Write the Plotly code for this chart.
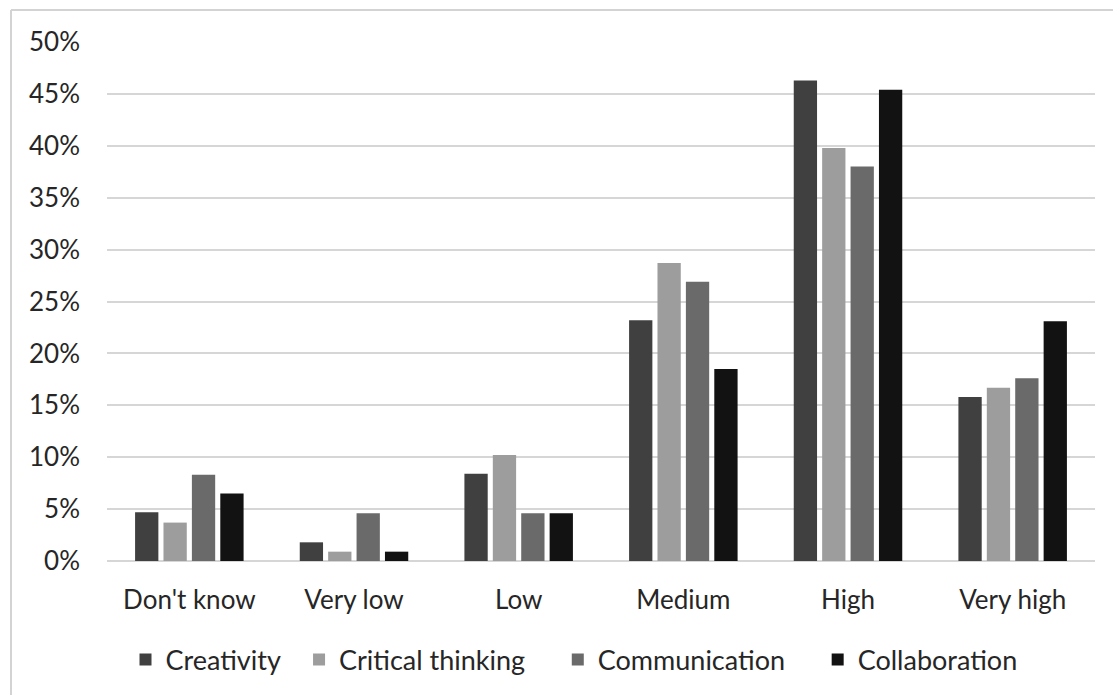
import plotly.graph_objects as go

categories = ["Don't know", "Very low", "Low", "Medium", "High", "Very high"]
creativity = [4.7, 1.8, 8.4, 23.2, 46.3, 15.8]
critical_thinking = [3.7, 0.9, 10.2, 28.7, 39.8, 16.7]
communication = [8.3, 4.6, 4.6, 26.9, 38.0, 17.6]
collaboration = [6.5, 0.9, 4.6, 18.5, 45.4, 23.1]
y_ticks = [0, 5, 10, 15, 20, 25, 30, 35, 40, 45, 50]
y_tick_labels = [f"{v}%" for v in y_ticks]

NB = "\u00a0"
series = [
    ("Creativity", creativity, "#404040", 2),
    ("Critical thinking", critical_thinking, "#9d9d9d", 4),
    ("Communication", communication, "#6a6a6a", 4),
    ("Collaboration", collaboration, "#121212", 0),
]

fig = go.Figure()
for name, vals, col, pad in series:
    fig.add_trace(go.Bar(x=categories, y=vals, name=name + NB * pad,
                         hovertemplate=name + ": %{y}%<extra></extra>",
                         marker=dict(color=col, line=dict(color=col, width=0))))

W, H = 1113, 695
L, R, T, B = 107, 18, 42, 133
pw, ph = W - L - R, H - T - B

fig.update_layout(
    width=W, height=H,
    margin=dict(l=L, r=R, t=T, b=B),
    paper_bgcolor="white", plot_bgcolor="white",
    barmode="group", bargap=0.31, bargroupgap=0.18,
    font=dict(family="Lato, 'Open Sans', sans-serif", size=26, color="#262626"),
    showlegend=True,
    legend=dict(orientation="h", x=(574 - L) / pw, xanchor="center",
                y=-(660 - (H - B)) / ph, yanchor="middle",
                font=dict(size=27, color="#262626"), itemwidth=30,
                traceorder="normal"),
    xaxis=dict(showgrid=False, showline=False, ticks="", ticklabelstandoff=21,
               tickfont=dict(size=26)),
    yaxis=dict(range=[0, 50], tickmode="array", tickvals=y_ticks,
               ticktext=y_tick_labels,
               showgrid=True, gridcolor="#d6d6d6", gridwidth=1.5,
               zeroline=True, zerolinecolor="#d6d6d6", zerolinewidth=1.5,
               showline=False, ticks="", ticklabelstandoff=26,
               tickfont=dict(size=26)),
    shapes=[
        dict(type="line", xref="paper", yref="paper",
             x0=(11 - L) / pw, x1=(W + 5 - L) / pw,
             y0=(H - B - 10) / ph, y1=(H - B - 10) / ph,
             line=dict(color="#d3d3d3", width=2)),
        dict(type="line", xref="paper", yref="paper",
             x0=(11 - L) / pw, x1=(11 - L) / pw,
             y0=(H - B - 10) / ph, y1=-(B + 5) / ph,
             line=dict(color="#d3d3d3", width=2)),
    ],
)

fig.write_html("out.html")
